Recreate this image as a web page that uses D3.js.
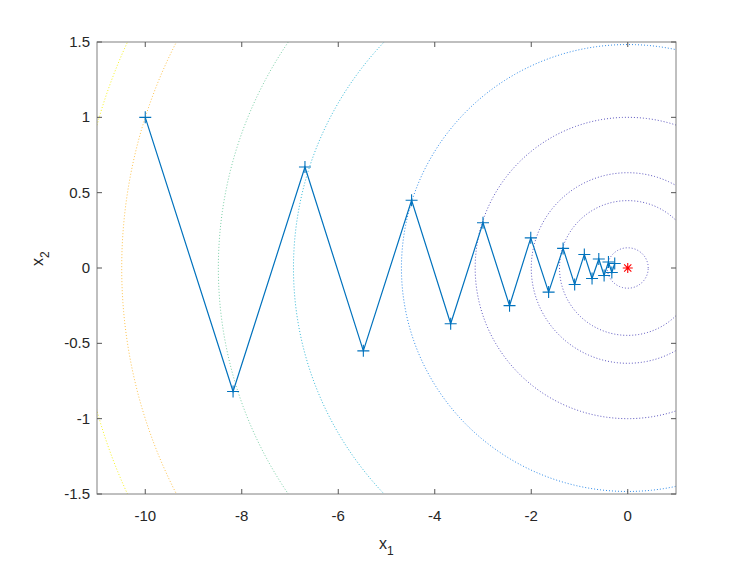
<!DOCTYPE html>
<html>
<head>
<meta charset="utf-8">
<script src="https://cdn.jsdelivr.net/npm/d3@7"></script>
<style>
  body { margin: 0; background: #fff; }
  svg { font-family: "Liberation Sans", Arial, sans-serif; }
</style>
</head>
<body>
<div id="chart"></div>
<script>
"use strict";

// gradient descent iterates
let x1Values = [-10, -8.18, -6.69, -5.48, -4.48, -3.67, -3.00, -2.45, -2.01, -1.64,
                -1.34, -1.10, -0.90, -0.74, -0.60, -0.49, -0.40, -0.33, -0.27];
let x2Values = [1, -0.82, 0.67, -0.55, 0.45, -0.37, 0.30, -0.25, 0.20, -0.16,
                0.13, -0.11, 0.09, -0.07, 0.06, -0.05, 0.04, -0.03, 0.03];

// contour levels of x1^2 + 10 x2^2
let levels = [0.18, 2, 4, 10, 22, 48, 72, 110, 130];
let levelColors = ["#4a44b8", "#4a44b8", "#4a44b8", "#4a44b8", "#1a7ee6",
                   "#1fb0d2", "#6cc99c", "#fdbd3c", "#f5f20a"];
let gamma = 10;

let xTicks = [-10, -8, -6, -4, -2, 0];
let yTicks = [-1.5, -1, -0.5, 0, 0.5, 1, 1.5];

let width = 747, height = 561;
let pLeft = 97, pRight = 676, pTop = 42, pBottom = 494;

let svg = d3.select("#chart")
    .append("svg")
    .attr("width", width)
    .attr("height", height);

let x = d3.scaleLinear().domain([-11, 1]).range([pLeft, pRight]);
let y = d3.scaleLinear().domain([-1.5, 1.5]).range([pBottom, pTop]);

svg.append("clipPath").attr("id", "clip")
    .append("rect")
    .attr("x", pLeft).attr("y", pTop)
    .attr("width", pRight - pLeft).attr("height", pBottom - pTop);

let plot = svg.append("g").attr("clip-path", "url(#clip)");

// contours
let line = d3.line().x(d => x(d[0])).y(d => y(d[1]));
levels.forEach((c, i) => {
    let pts = d3.range(0, 361, 1).map(a => {
        let t = a * Math.PI / 180;
        return [Math.sqrt(c) * Math.cos(t), Math.sqrt(c / gamma) * Math.sin(t)];
    });
    plot.append("path")
        .attr("d", line(pts))
        .attr("fill", "none")
        .attr("stroke", levelColors[i])
        .attr("stroke-width", 1)
        .attr("stroke-dasharray", "1,2")
        .attr("opacity", 0.9);
});

// path of iterates
let iterates = x1Values.map((v, i) => [v, x2Values[i]]);
plot.append("path")
    .attr("d", line(iterates))
    .attr("fill", "none")
    .attr("stroke", "#0072bd")
    .attr("stroke-width", 1.2);

let ms = 6;
plot.selectAll(".mk")
    .data(iterates)
    .join("path")
    .attr("class", "mk")
    .attr("d", d => `M${x(d[0]) - ms},${y(d[1])}H${x(d[0]) + ms}M${x(d[0])},${y(d[1]) - ms}V${y(d[1]) + ms}`)
    .attr("stroke", "#0072bd")
    .attr("stroke-width", 1.1)
    .attr("fill", "none");

// optimum
let s = 5, s2 = 3.6;
let ox = x(0), oy = y(0);
plot.append("path")
    .attr("d", `M${ox - s},${oy}H${ox + s}M${ox},${oy - s}V${oy + s}` +
        `M${ox - s2},${oy - s2}L${ox + s2},${oy + s2}M${ox - s2},${oy + s2}L${ox + s2},${oy - s2}`)
    .attr("stroke", "#ff0000")
    .attr("stroke-width", 1.1)
    .attr("fill", "none");

// axes frame
svg.append("rect")
    .attr("x", pLeft).attr("y", pTop)
    .attr("width", pRight - pLeft).attr("height", pBottom - pTop)
    .attr("fill", "none")
    .attr("stroke", "#808080")
    .attr("stroke-width", 1);

let tl = 5;
xTicks.forEach(t => {
    svg.append("line").attr("x1", x(t)).attr("x2", x(t))
        .attr("y1", pBottom).attr("y2", pBottom - tl).attr("stroke", "#555");
    svg.append("line").attr("x1", x(t)).attr("x2", x(t))
        .attr("y1", pTop).attr("y2", pTop + tl).attr("stroke", "#555");
    svg.append("text")
        .attr("x", x(t)).attr("y", pBottom + 27)
        .attr("text-anchor", "middle")
        .attr("font-size", 15)
        .attr("fill", "#262626")
        .text(t);
});

yTicks.forEach(t => {
    svg.append("line").attr("x1", pLeft).attr("x2", pLeft + tl)
        .attr("y1", y(t)).attr("y2", y(t)).attr("stroke", "#555");
    svg.append("line").attr("x1", pRight).attr("x2", pRight - tl)
        .attr("y1", y(t)).attr("y2", y(t)).attr("stroke", "#555");
    svg.append("text")
        .attr("x", pLeft - 7).attr("y", y(t) + 5)
        .attr("text-anchor", "end")
        .attr("font-size", 15)
        .attr("fill", "#262626")
        .text(t);
});

// axis labels
let xl = svg.append("text")
    .attr("x", 379).attr("y", 549)
    .attr("font-size", 16)
    .attr("fill", "#262626");
xl.append("tspan").text("x");
xl.append("tspan").attr("font-size", 12).attr("dy", 6).text("1");

let yl = svg.append("text")
    .attr("transform", "translate(43,266) rotate(-90)")
    .attr("font-size", 16)
    .attr("fill", "#262626");
yl.append("tspan").text("x");
yl.append("tspan").attr("font-size", 12).attr("dy", 6).text("2");
</script>
</body>
</html>
